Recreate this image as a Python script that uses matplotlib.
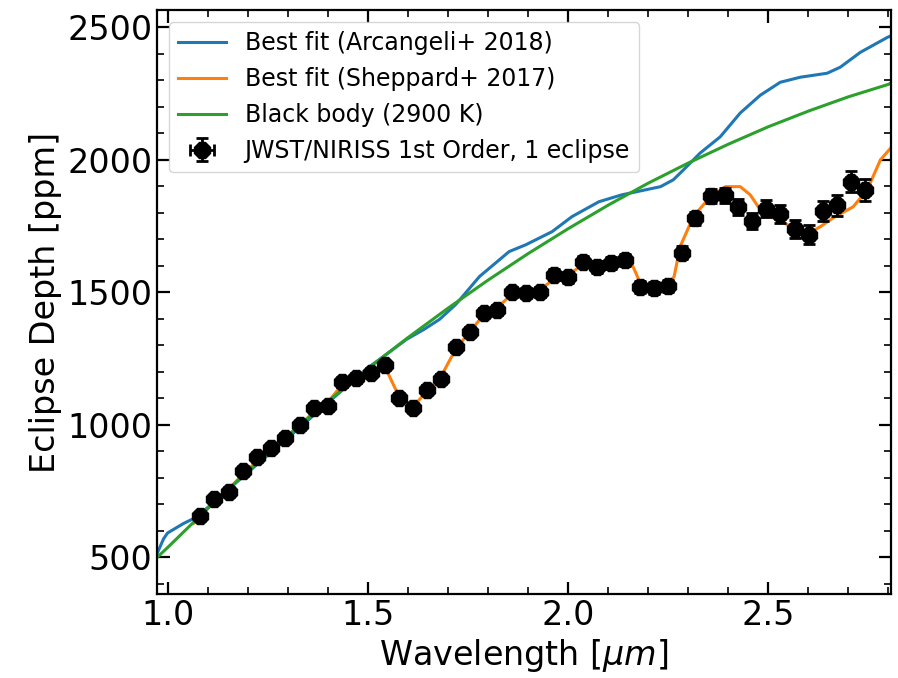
import matplotlib
matplotlib.use("Agg")
import matplotlib.pyplot as plt
from matplotlib.ticker import MultipleLocator

# observed eclipse depths (JWST/NIRISS 1st order)
wave = [1.082, 1.117, 1.154, 1.189, 1.224, 1.259, 1.294, 1.331, 1.366, 1.400,
        1.435, 1.470, 1.507, 1.542, 1.577, 1.612, 1.647, 1.682, 1.719, 1.754,
        1.789, 1.823, 1.861, 1.896, 1.930, 1.965, 2.000, 2.037, 2.072, 2.107,
        2.142, 2.179, 2.214, 2.249, 2.284, 2.318, 2.356, 2.391, 2.425, 2.460,
        2.495, 2.530, 2.567, 2.602, 2.637, 2.672, 2.706, 2.741]
depth = [655, 722, 748, 827, 877, 912, 952, 1000, 1065, 1072,
         1160, 1175, 1195, 1225, 1102, 1065, 1132, 1173, 1292, 1350,
         1422, 1432, 1503, 1497, 1502, 1567, 1557, 1615, 1595, 1610,
         1622, 1520, 1517, 1524, 1650, 1780, 1865, 1866, 1822, 1770,
         1815, 1796, 1738, 1718, 1808, 1828, 1918, 1886]
depth_err = [15, 15, 15, 15, 15, 15, 15, 15, 15, 16,
             16, 16, 16, 17, 17, 17, 18, 18, 18, 18,
             19, 19, 19, 20, 20, 20, 21, 21, 22, 22,
             22, 23, 23, 24, 24, 25, 27, 28, 30, 31,
             32, 33, 34, 36, 37, 39, 41, 40]
wave_err = [0.012] * len(wave)

# best fit, Arcangeli+ 2018
arc_wave = [0.974, 0.99, 1.0, 1.04, 1.07, 1.1, 1.2, 1.3, 1.4, 1.5,
            1.53, 1.597, 1.64, 1.679, 1.72, 1.779, 1.853, 1.895, 1.96, 2.01,
            2.077, 2.134, 2.231, 2.263, 2.288, 2.33, 2.38, 2.43, 2.48, 2.53,
            2.58, 2.647, 2.68, 2.73, 2.797, 2.806]
arc_depth = [515, 570, 592, 628, 650, 688, 820, 950, 1083, 1215,
             1248, 1323, 1360, 1398, 1455, 1560, 1654, 1680, 1729, 1786,
             1842, 1868, 1899, 1925, 1962, 2026, 2087, 2177, 2244, 2293,
             2312, 2327, 2350, 2406, 2462, 2468]

# best fit, Sheppard+ 2017
shep_wave = [1.065, 1.082, 1.117, 1.154, 1.189, 1.224, 1.259, 1.294, 1.331, 1.366,
             1.400, 1.435, 1.470, 1.507, 1.542, 1.577, 1.612, 1.647, 1.682, 1.719,
             1.754, 1.789, 1.823, 1.861, 1.896, 1.930, 1.965, 2.000, 2.037, 2.072,
             2.107, 2.142, 2.160, 2.179, 2.214, 2.249, 2.265, 2.280, 2.313, 2.355,
             2.393, 2.430, 2.455, 2.480, 2.505, 2.538, 2.572, 2.605, 2.630, 2.663,
             2.712, 2.747, 2.780, 2.806]
shep_depth = [628, 655, 712, 760, 815, 865, 910, 952, 1000, 1050,
              1085, 1150, 1178, 1200, 1222, 1110, 1068, 1125, 1180, 1285,
              1350, 1415, 1442, 1495, 1500, 1510, 1550, 1565, 1605, 1600,
              1610, 1620, 1605, 1540, 1518, 1525, 1560, 1673, 1786, 1861,
              1899, 1899, 1868, 1812, 1786, 1763, 1737, 1726, 1748, 1782,
              1823, 1887, 2000, 2045]

# black body 2900 K
bb_wave = [0.974, 1.0, 1.1, 1.2, 1.3, 1.4, 1.5, 1.6, 1.7, 1.8,
           1.9, 2.0, 2.1, 2.2, 2.3, 2.4, 2.5, 2.6, 2.7, 2.8, 2.806]
bb_depth = [500, 537, 684, 824, 959, 1088, 1212, 1329, 1440, 1546,
            1646, 1740, 1829, 1912, 1988, 2059, 2125, 2184, 2238, 2285, 2290]

fig = plt.figure(figsize=(8.98, 6.78), dpi=100)
ax = fig.add_axes([0.175, 0.124, 0.817, 0.861])

ax.plot(arc_wave, arc_depth, color='#1f77b4', lw=2.2, label='Best fit (Arcangeli+ 2018)')
ax.plot(shep_wave, shep_depth, color='#ff7f0e', lw=2.2, label='Best fit (Sheppard+ 2017)')
ax.plot(bb_wave, bb_depth, color='#2ca02c', lw=2.2, label='Black body (2900 K)')
ax.errorbar(wave, depth, yerr=depth_err, xerr=wave_err, fmt='8', color='black',
            markersize=12, elinewidth=2, capsize=4, capthick=2, zorder=5,
            label='JWST/NIRISS 1st Order, 1 eclipse')

ax.set_xlim(0.974, 2.806)
ax.set_ylim(362, 2565)
ax.xaxis.set_major_locator(MultipleLocator(0.5))
ax.xaxis.set_minor_locator(MultipleLocator(0.1))
ax.yaxis.set_major_locator(MultipleLocator(500))
ax.yaxis.set_minor_locator(MultipleLocator(100))
ax.tick_params(which='both', direction='in', top=True, right=True, labelsize=24)
ax.tick_params(which='major', length=9, width=1.6)
ax.tick_params(which='minor', length=5, width=1.2)
for s in ax.spines.values():
    s.set_linewidth(1.6)

ax.set_xlabel(r'Wavelength [$\mu m$]', fontsize=24)
ax.set_ylabel('Eclipse Depth [ppm]', fontsize=24)
ax.legend(loc='upper left', fontsize=17)

plt.savefig('out.png', dpi=100)
